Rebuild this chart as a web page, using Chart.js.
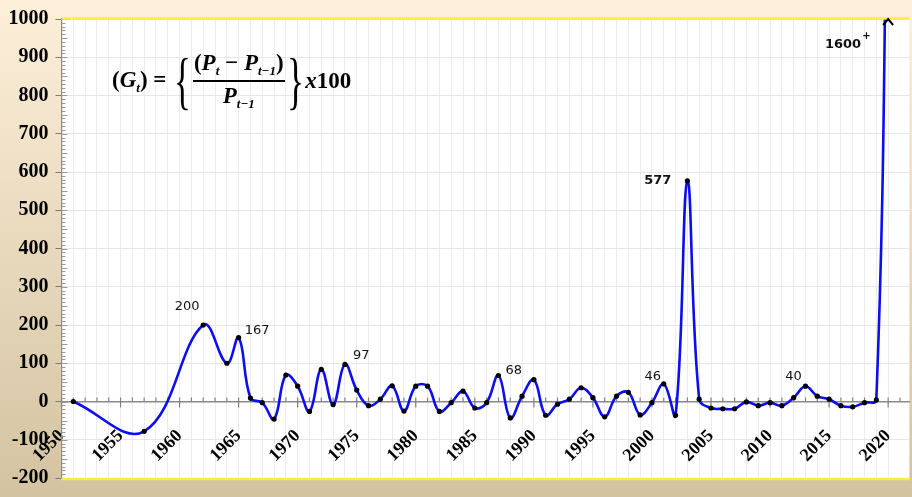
<!DOCTYPE html>
<html>
<head>
<meta charset="utf-8">
<script src="https://cdn.jsdelivr.net/npm/chart.js@4.4.1/dist/chart.umd.min.js"></script>
<style>
  body { margin: 0; }
  #wrap {
    position: relative;
    width: 912px;
    height: 497px;
    background: linear-gradient(#fdefd9, #d3c3a1);
  }
  #formula {
    position: absolute;
    left: 112px;
    top: 51px;
    height: 60px;
    display: flex;
    align-items: center;
    font-family: "Liberation Serif", serif;
    font-weight: bold;
    font-size: 23px;
    color: #000;
  }
  #formula sub { font-size: 13px; vertical-align: -5px; font-style: italic; }
  #formula .brace {
    display: inline-block;
    font-size: 64px;
    font-weight: normal;
    line-height: 1;
    transform: scaleX(0.55);
    margin: 0 -5px;
  }
  #formula .frac { display: inline-flex; flex-direction: column; align-items: center; }
  #formula .num { border-bottom: 2px solid #000; padding: 0 1px 1px; }
  #formula .den { padding-top: 1px; }
</style>
</head>
<body>
<div id="wrap">
  <canvas id="growthChart"></canvas>
  <div id="formula">
    <span>(<i>G</i><sub>t</sub>) =&nbsp;</span>
    <span class="brace">{</span>
    <span class="frac">
      <span class="num">(<i>P</i><sub>t</sub> − <i>P</i><sub>t−1</sub>)</span>
      <span class="den"><i>P</i><sub>t−1</sub></span>
    </span>
    <span class="brace">}</span>
    <span><i>x</i>100</span>
  </div>
</div>
<script>
// growth rate per year (%)
const years = [1951, 1957, 1962, 1964, 1965, 1966, 1967, 1968, 1969, 1970,
  1971, 1972, 1973, 1974, 1975, 1976, 1977, 1978, 1979, 1980,
  1981, 1982, 1983, 1984, 1985, 1986, 1987, 1988, 1989, 1990,
  1991, 1992, 1993, 1994, 1995, 1996, 1997, 1998, 1999, 2000,
  2001, 2002, 2003, 2004, 2005, 2006, 2007, 2008, 2009, 2010,
  2011, 2012, 2013, 2014, 2015, 2016, 2017, 2018, 2019, 2020];
const growth = [0, -78, 200, 100, 167, 9, -3, -46, 69, 40,
  -26, 84, -8, 97, 30, -11, 6, 41, -25, 40,
  40, -26, -3, 27, -17, -3, 68, -43, 14, 57,
  -36, -7, 6, 36, 10, -40, 14, 24, -35, -3,
  46, -36, 577, 6, -17, -19, -19, -1, -11, -3,
  -11, 10, 40, 14, 6, -11, -14, -3, 4, 1600];

const xMin = 1950;
const xMax = 2021.8;
const yMin = -200;
const yMax = 1000;

// values written next to some of the points
const labelYears = [1962, 1965, 1974, 1987, 2001, 2003, 2013, 2020];
const labelTexts = ['200', '167', '97', '68', '46', '577', '40', '1600'];

const points = years.map((y, i) => ({ x: y, y: growth[i] }));

// where each label sits relative to its point: dx, dy, align, bold
const labelStyle = {
  1962: [-16, -18, 'center', false],
  1965: [6, -7, 'left', false],
  1974: [8, -9, 'left', false],
  1987: [7, -5, 'left', false],
  2001: [-11, -7, 'center', false],
  2003: [-16, 0, 'right', true],
  2013: [-12, -10, 'center', false],
  2020: [-27, 0, 'right', true]
};

const decorPlugin = {
  id: 'decor',
  beforeDatasetsDraw(chart) {
    const ctx = chart.ctx;
    const a = chart.chartArea;
    const xs = chart.scales.x;
    const ys = chart.scales.y;
    const y0 = ys.getPixelForValue(0);
    ctx.save();
    // x axis tick marks, every year
    ctx.strokeStyle = '#808080';
    ctx.lineWidth = 1.2;
    for (let yr = xMin; yr <= Math.floor(xMax); yr++) {
      const px = xs.getPixelForValue(yr);
      ctx.beginPath();
      if (yr % 5 === 0) {
        ctx.moveTo(px, y0 - 4);
        ctx.lineTo(px, y0 + 6);
      } else {
        ctx.moveTo(px, y0 - 4);
        ctx.lineTo(px, y0);
      }
      ctx.stroke();
    }
    // minor ticks on the y axis
    ctx.lineWidth = 1;
    ctx.strokeStyle = '#9a9a9a';
    for (let v = yMin; v <= yMax; v += 10) {
      const py = Math.round(ys.getPixelForValue(v)) + 0.5;
      ctx.beginPath();
      ctx.moveTo(a.left, py);
      ctx.lineTo(a.left + (v % 50 === 0 ? 6 : 4), py);
      ctx.stroke();
    }
    ctx.restore();
  },
  afterDatasetsDraw(chart) {
    const ctx = chart.ctx;
    const a = chart.chartArea;
    const xs = chart.scales.x;
    const ys = chart.scales.y;
    ctx.save();
    // yellow borders at top and bottom of the plot
    ctx.strokeStyle = '#ffee33';
    ctx.lineWidth = 2.5;
    ctx.beginPath();
    ctx.moveTo(a.left, a.top - 0.5);
    ctx.lineTo(a.right, a.top - 0.5);
    ctx.moveTo(a.left, a.bottom + 1);
    ctx.lineTo(a.right, a.bottom + 1);
    ctx.stroke();

    // arrow where the last value leaves the chart
    const ax = xs.getPixelForValue(years[years.length - 1]);
    ctx.strokeStyle = '#000';
    ctx.lineWidth = 2;
    ctx.beginPath();
    ctx.moveTo(ax - 5, a.top + 6);
    ctx.lineTo(ax, a.top);
    ctx.lineTo(ax + 5, a.top + 6);
    ctx.stroke();

    // value labels
    ctx.fillStyle = '#111';
    ctx.textBaseline = 'middle';
    labelYears.forEach((yr, i) => {
      const idx = years.indexOf(yr);
      const st = labelStyle[yr];
      let px = xs.getPixelForValue(yr) + st[0];
      let py = ys.getPixelForValue(growth[idx]) + st[1];
      if (py < a.top + 26) py = a.top + 26;
      ctx.font = (st[3] ? 'bold ' : '') + '13px "DejaVu Sans"';
      ctx.textAlign = st[2];
      ctx.fillText(labelTexts[i], px, py);
      if (yr === 2020) {
        ctx.textAlign = 'left';
        ctx.font = 'bold 10px "DejaVu Sans"';
        ctx.fillText('+', px + 1, py - 9);
      }
    });
    ctx.restore();
  },
  beforeDraw(chart) {
    const a = chart.chartArea;
    chart.ctx.save();
    chart.ctx.fillStyle = '#fff';
    chart.ctx.fillRect(a.left, a.top, a.right - a.left, a.bottom - a.top);
    chart.ctx.restore();
  }
};

new Chart(document.getElementById('growthChart'), {
  type: 'line',
  data: {
    datasets: [{
      data: points,
      borderColor: '#0d0df0',
      borderWidth: 2.6,
      tension: 0.4,
      pointRadius: 2.6,
      pointBackgroundColor: '#000',
      pointBorderWidth: 0,
      pointHoverRadius: 2.6
    }]
  },
  options: {
    responsive: true,
    maintainAspectRatio: false,
    animation: false,
    layout: { padding: { top: 14, bottom: 9, right: 0, left: 0 } },
    plugins: { legend: { display: false }, tooltip: { enabled: false } },
    scales: {
      x: {
        type: 'linear',
        min: xMin,
        max: xMax,
        position: { y: 0 },
        afterBuildTicks: (s) => {
          s.ticks = s.ticks.filter(t => Number.isInteger(t.value));
        },
        afterFit: (s) => {
          s.height = 0;
          s.paddingLeft = 0;
          s.paddingRight = 0;
        },
        grid: { color: '#ececec', lineWidth: 1, drawTicks: false },
        border: { display: true, color: '#8a8a8a', width: 1.5 },
        ticks: {
          stepSize: 1,
          autoSkip: false,
          minRotation: 45,
          maxRotation: 45,
          padding: 24,
          color: '#000',
          font: { family: '"Liberation Serif"', size: 18, weight: 'bold' },
          callback: (v) => (v % 5 === 0 ? String(v) : '')
        }
      },
      y: {
        min: yMin,
        max: yMax,
        afterFit: (s) => { s.width = 61.5; },
        grid: {
          color: '#e6e6e6',
          tickColor: '#7a7a7a',
          tickLength: 6
        },
        border: { display: true, color: '#8a8a8a', width: 1.2 },
        ticks: {
          stepSize: 100,
          padding: 7,
          color: '#000',
          font: { family: '"Liberation Serif"', size: 20, weight: 'bold' },
          callback: (v) => String(v)
        }
      }
    }
  },
  plugins: [decorPlugin]
});
</script>
</body>
</html>
